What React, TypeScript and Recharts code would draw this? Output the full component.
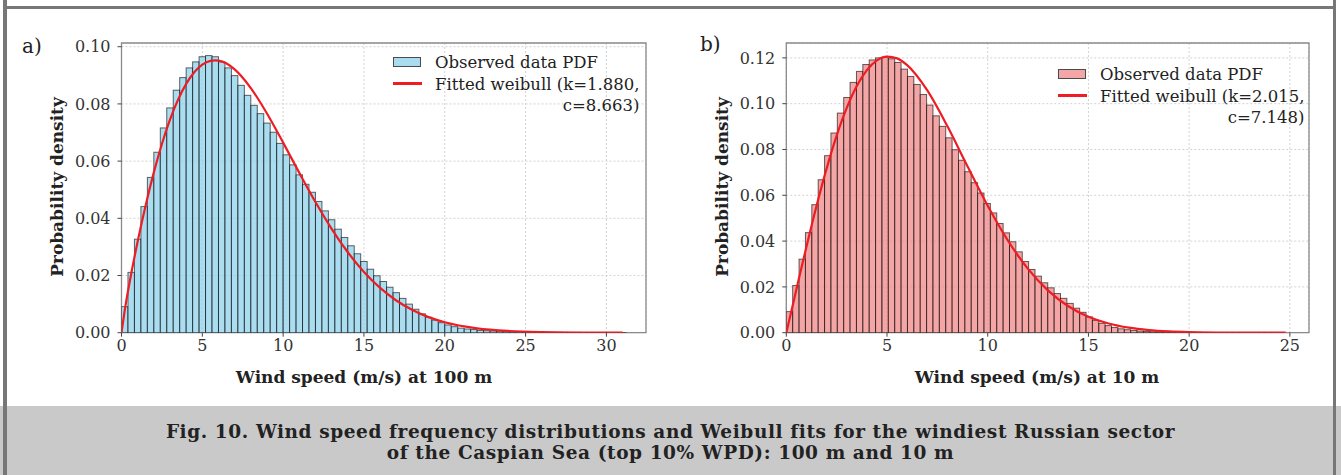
import React from 'react'
import {
  Bar,
  CartesianGrid,
  ComposedChart,
  Line,
  ReferenceArea,
  XAxis,
  YAxis,
} from 'recharts'

// Histogram bin widths (m/s) and observed PDF heights
const BIN_A = 0.4
const densityA = [
  0.0091, 0.0211, 0.0327, 0.0441, 0.0543, 0.0631, 0.0716, 0.0786, 0.0848, 0.0892,
  0.0926, 0.0947, 0.0965, 0.0969, 0.0965, 0.0947, 0.0926, 0.0899, 0.0865, 0.083,
  0.0795, 0.0766, 0.0733, 0.0701, 0.0662, 0.0622, 0.0587, 0.0552, 0.0519, 0.0491,
  0.0459, 0.0426, 0.0395, 0.0362, 0.0333, 0.0304, 0.0276, 0.0249, 0.0222, 0.0199,
  0.0179, 0.0159, 0.014, 0.012, 0.01, 0.0082, 0.0066, 0.0054, 0.0044, 0.0035,
  0.0027, 0.0021, 0.0016, 0.0013, 0.0011, 0.0008, 0.0007, 0.0006, 0.0005, 0.0004,
  0.0003, 0.0003, 0.0002, 0.0002, 0.0002, 0.0001, 0.0001, 0.0001, 0.0001, 0.0001,
  0.0001, 0.00005, 0.00005, 0.00005, 0.00003, 0.00003, 0.00002, 0.00002,
]

const BIN_B = 0.3166
const densityB = [
  0.0092, 0.0206, 0.0321, 0.0437, 0.0559, 0.0668, 0.0773, 0.0872, 0.0959, 0.1027,
  0.1093, 0.1141, 0.1171, 0.1191, 0.12, 0.1203, 0.1196, 0.118, 0.1151, 0.1119,
  0.1084, 0.104, 0.0994, 0.0947, 0.0901, 0.0851, 0.0799, 0.0753, 0.0703, 0.0655,
  0.061, 0.0564, 0.0523, 0.0477, 0.0436, 0.0397, 0.0353, 0.0311, 0.0276, 0.0247,
  0.0218, 0.0196, 0.0171, 0.015, 0.0128, 0.0107, 0.0089, 0.0069, 0.0054, 0.0041,
  0.0031, 0.0023, 0.0017, 0.0013, 0.001, 0.0007, 0.0005, 0.0004, 0.0003, 0.0002,
  0.0002, 0.0001, 0.0001, 0.0001, 0.0001, 0.00005, 0.00004, 0.00003, 0.00003, 0.00002,
  0.00002, 0.00001, 0.00001, 0.00001, 0.00001, 0.00001, 0.00001, 0.00001,
]

// Fitted Weibull curves, sampled
const fitXA = [
  0, 0.25, 0.5, 1, 1.5, 2, 2.5, 3, 3.5, 4, 4.5, 5, 5.5, 5.8, 6, 6.5, 7, 8, 9, 10,
  11, 12, 13, 14, 15, 16, 17, 18, 19, 20, 22, 24, 26, 28, 31,
]
const fitYA = [
  0, 0.00957, 0.01756, 0.03191, 0.04469, 0.05606, 0.066, 0.07449, 0.08149, 0.08701,
  0.09108, 0.09374, 0.09507, 0.09525, 0.09515, 0.09412, 0.09207, 0.08554, 0.07665, 0.06646,
  0.05589, 0.04568, 0.03632, 0.02813, 0.02125, 0.01566, 0.01127, 0.00792, 0.00544, 0.00365,
  0.00154, 0.0006, 0.00021, 0.00007, 0.00001,
]
const fitXB = [
  0, 0.25, 0.5, 1, 1.5, 2, 2.5, 3, 3.5, 4, 4.5, 5, 5.5, 6, 7, 8, 9, 10, 11, 12,
  13, 14, 15, 16, 17, 18, 19, 20, 22, 24.8,
]
const fitYB = [
  0, 0.00937, 0.01886, 0.03757, 0.05536, 0.07166, 0.08605, 0.09814, 0.10773, 0.11465,
  0.11891, 0.12056, 0.1198, 0.11687, 0.1058, 0.09012, 0.07258, 0.05543, 0.04026, 0.02786,
  0.01838, 0.01157, 0.00697, 0.00401, 0.0022, 0.00116, 0.00059, 0.00028, 0.00005, 0.000005,
]

const xTicksA = [0, 5, 10, 15, 20, 25, 30]
const yTicksA = [0, 0.02, 0.04, 0.06, 0.08, 0.1]
const xTicksB = [0, 5, 10, 15, 20, 25]
const yTicksB = [0, 0.02, 0.04, 0.06, 0.08, 0.1, 0.12]

const SERIF = '"DejaVu Serif", serif'
const RED = '#ee1d23'
const CHART_H = 400
const PLOT_TOP = 43
const PLOT_BOTTOM = 332.7

type PanelProps = {
  bins: number[]
  binWidth: number
  fitX: number[]
  fitY: number[]
  xMax: number
  yMax: number
  xTicks: number[]
  yTicks: number[]
  fill: string
  width: number
  axisWidth: number
  right: number
}

function HistPanel(p: PanelProps) {
  const hist = p.bins.map((d, i) => ({ x: (i + 0.5) * p.binWidth, d }))
  const fit = p.fitX.map((x, i) => ({ x, f: p.fitY[i] }))
  const plotW = p.width - p.axisWidth - p.right
  // full bin width in pixels, so neighbouring bars touch like a histogram
  const barPx = (p.binWidth / p.xMax) * plotW
  const tick = { fontSize: 16, fontFamily: SERIF, fill: '#333' }
  const binShape = (props: any) => {
    const { x, y, width, height } = props
    if (height == null || isNaN(height)) return <g />
    const cx = x + width / 2
    return (
      <rect
        x={cx - barPx / 2}
        y={y}
        width={barPx}
        height={height}
        fill={p.fill}
        fillOpacity={0.7}
        stroke="#000"
        strokeOpacity={0.6}
        strokeWidth={1}
      />
    )
  }
  return (
    <ComposedChart
      width={p.width}
      height={CHART_H}
      data={hist}
      margin={{ top: PLOT_TOP, right: p.right, bottom: 0, left: 0 }}
    >
      <CartesianGrid stroke="#d2d2d2" strokeDasharray="2 2" />
      <XAxis
        type="number"
        dataKey="x"
        domain={[0, p.xMax]}
        ticks={p.xTicks}
        allowDataOverflow
        height={CHART_H - PLOT_BOTTOM}
        tick={tick}
        tickSize={4}
        tickMargin={3}
        axisLine={false}
        tickLine={{ stroke: '#444' }}
      />
      <YAxis
        type="number"
        domain={[0, p.yMax]}
        ticks={p.yTicks}
        allowDataOverflow
        width={p.axisWidth}
        tick={tick}
        tickSize={4}
        tickMargin={7}
        axisLine={false}
        tickLine={{ stroke: '#444' }}
        tickFormatter={(v: number) => v.toFixed(2)}
      />
      <Bar dataKey="d" shape={binShape} isAnimationActive={false} />
      <Line
        data={fit}
        dataKey="f"
        type="monotone"
        stroke={RED}
        strokeWidth={2.2}
        dot={false}
        isAnimationActive={false}
      />
      <ReferenceArea
        x1={0}
        x2={p.xMax}
        y1={0}
        y2={p.yMax}
        fill="none"
        stroke="#8a8a8a"
        strokeWidth={1.3}
      />
    </ComposedChart>
  )
}

const abs = (s: React.CSSProperties): React.CSSProperties => ({ position: 'absolute', ...s })

function LegendBox({
  left,
  top,
  fill,
  k,
  c,
}: {
  left: number
  top: number
  fill: string
  k: string
  c: string
}) {
  const text: React.CSSProperties = { fontFamily: SERIF, fontSize: 16.5, color: '#222', lineHeight: '21.5px' }
  return (
    <div style={abs({ left, top })}>
      <div
        style={abs({
          left: 0,
          top: 5,
          width: 28,
          height: 10,
          background: fill,
          opacity: 0.7,
          border: '1.3px solid #000',
          boxSizing: 'border-box',
        })}
      />
      <div style={abs({ left: 0, top: 30, width: 29, height: 3, background: RED })} />
      <div style={abs({ left: 42, top: 0, display: 'inline-block', whiteSpace: 'nowrap', ...text })}>
        <div>Observed data PDF</div>
        <div>Fitted weibull (k={k},</div>
        <div style={{ textAlign: 'right' }}>c={c})</div>
      </div>
    </div>
  )
}

export default function App() {
  const boldLabel: React.CSSProperties = {
    fontFamily: SERIF,
    fontWeight: 'bold',
    fontSize: 17,
    color: '#222',
    whiteSpace: 'nowrap',
  }
  return (
    <div style={abs({ left: 0, top: 0, width: 1341, height: 475, background: '#fff', overflow: 'hidden' })}>
      <div style={abs({ left: 0, top: 0 })}>
        <HistPanel
          bins={densityA}
          binWidth={BIN_A}
          fitX={fitXA}
          fitY={fitYA}
          xMax={32.45}
          yMax={0.1013}
          xTicks={xTicksA}
          yTicks={yTicksA}
          fill="#87CEEB"
          width={680}
          axisWidth={121.5}
          right={34}
        />
      </div>
      <div style={abs({ left: 680, top: 0 })}>
        <HistPanel
          bins={densityB}
          binWidth={BIN_B}
          fitX={fitXB}
          fitY={fitYB}
          xMax={25.95}
          yMax={0.1265}
          xTicks={xTicksB}
          yTicks={yTicksB}
          fill="#F08080"
          width={661}
          axisWidth={106.3}
          right={32}
        />
      </div>

      <LegendBox left={393} top={52} fill="#87CEEB" k="1.880" c="8.663" />
      <LegendBox left={1058} top={64} fill="#F08080" k="2.015" c="7.148" />

      <div style={abs({ left: 22, top: 34, fontFamily: SERIF, fontSize: 20, color: '#222' })}>a)</div>
      <div style={abs({ left: 700, top: 32, fontFamily: SERIF, fontSize: 20, color: '#222' })}>b)</div>

      <div style={abs({ left: 57, top: 187, transform: 'translate(-50%, -50%) rotate(-90deg)', ...boldLabel })}>
        Probability density
      </div>
      <div style={abs({ left: 722, top: 187, transform: 'translate(-50%, -50%) rotate(-90deg)', ...boldLabel })}>
        Probability density
      </div>
      <div style={abs({ left: 364, top: 377, transform: 'translate(-50%, -50%)', ...boldLabel })}>
        Wind speed (m/s) at 100 m
      </div>
      <div style={abs({ left: 1037, top: 377, transform: 'translate(-50%, -50%)', ...boldLabel })}>
        Wind speed (m/s) at 10 m
      </div>

      <div
        style={abs({
          left: 0,
          top: 406,
          width: 1341,
          height: 69,
          background: '#c9c9c9',
          fontFamily: SERIF,
          fontWeight: 'bold',
          fontSize: 18.5,
          letterSpacing: 0.6,
          color: '#222',
          textAlign: 'center',
          lineHeight: '21px',
          paddingTop: 15,
          boxSizing: 'border-box',
        })}
      >
        <div>Fig. 10. Wind speed frequency distributions and Weibull fits for the windiest Russian sector</div>
        <div>of the Caspian Sea (top 10% WPD): 100 m and 10 m</div>
      </div>

      <div style={abs({ left: 3, top: 0, width: 4, height: 475, background: '#777' })} />
      <div style={abs({ left: 1333, top: 0, width: 3, height: 475, background: '#777' })} />
      <div style={abs({ left: 3, top: 6, width: 1333, height: 3, background: '#777' })} />
    </div>
  )
}
